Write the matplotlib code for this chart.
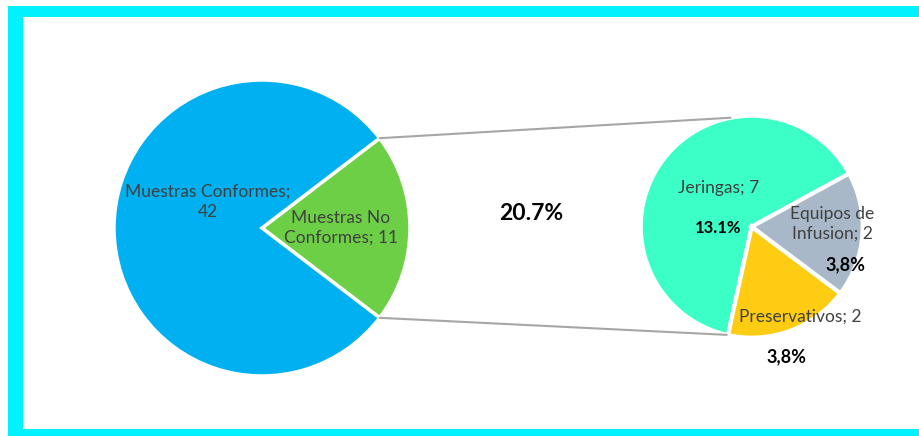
import matplotlib.pyplot as plt
from matplotlib.patches import Rectangle, ConnectionPatch
import numpy as np

# datos
principal_labels = ['Muestras No\nConformes; 11', 'Muestras Conformes;\n42']
principal_vals = [11, 42]
principal_cols = ['#6DCF45', '#00B0F0']

detalle_labels = ['Jeringas; 7', 'Preservativos; 2', 'Equipos de\nInfusion; 2']
detalle_vals = [7, 2, 2]
detalle_pct = ['13.1%', '3,8%', '3,8%']
detalle_cols = ['#3CFFC8', '#FFCC14', '#A9B8C9']
total_pct = '20.7%'

plt.rcParams['font.family'] = ['Lato', 'DejaVu Sans']

W, H = 919, 436
fig = plt.figure(figsize=(W / 100, H / 100), dpi=100)

# marco cian
bg = fig.add_axes([0, 0, 1, 1])
bg.set_xlim(0, W)
bg.set_ylim(H, 0)
bg.axis('off')
cian = '#00F2FF'
bg.add_patch(Rectangle((8, 6), W - 8, 10.7, color=cian, lw=0))
bg.add_patch(Rectangle((8, 6), 15, H - 6, color=cian, lw=0))
bg.add_patch(Rectangle((8, 429), W - 8, 7, color=cian, lw=0))


def caja(cx, cy, r):
    return [(cx - r) / W, (H - cy - r) / H, 2 * r / W, 2 * r / H]


# pastel principal
ax1 = fig.add_axes(caja(262, 228, 148))
ang = 360 * principal_vals[0] / sum(principal_vals)
ax1.pie(principal_vals, colors=principal_cols, startangle=-ang / 2,
        wedgeprops=dict(edgecolor='white', linewidth=2.5))
ax1.set_xlim(-1, 1)
ax1.set_ylim(-1, 1)
ax1.set_aspect('auto')
ax1.text(0.534, 0.0, principal_labels[0], ha='center', va='center',
         fontsize=12.5, color='#404040', linespacing=1.3)
ax1.text(-0.365, 0.176, principal_labels[1], ha='center', va='center',
         fontsize=12.5, color='#404040', linespacing=1.3)

# pastel detalle
ax2 = fig.add_axes(caja(751.7, 226.7, 111))
ax2.pie(detalle_vals, colors=detalle_cols, startangle=28.6,
        wedgeprops=dict(edgecolor='white', linewidth=3))
ax2.set_xlim(-1, 1)
ax2.set_ylim(-1, 1)
ax2.set_aspect('auto')

pos_lab = [(-0.30, 0.346), (0.435, -0.811), (0.723, 0.024)]
pos_pct = [(-0.30, -0.014), (0.309, -1.171), (0.847, -0.339)]
tam_pct = [12, 13, 13]
for lab, pct, pl, pp, t in zip(detalle_labels, detalle_pct, pos_lab, pos_pct, tam_pct):
    ax2.text(pl[0], pl[1], lab, ha='center', va='center', fontsize=12.5,
             color='#404040', linespacing=1.3)
    ax2.text(pp[0], pp[1], pct, ha='center', va='center', fontsize=t,
             color='black', fontweight='bold')

fig.text(531 / W, 1 - 213 / H, total_pct, ha='center', va='center',
         fontsize=16.5, fontweight='bold', color='black')

# lineas de union
a = np.deg2rad(ang / 2)
for s, b in [(1, 101), (-1, -103)]:
    bb = np.deg2rad(b)
    con = ConnectionPatch(xyA=(np.cos(a), s * np.sin(a)), coordsA=ax1.transData,
                          xyB=(np.cos(bb), np.sin(bb)), coordsB=ax2.transData,
                          color='#A6A6A6', lw=1.5)
    fig.add_artist(con)

fig.savefig('out.png', dpi=100)
